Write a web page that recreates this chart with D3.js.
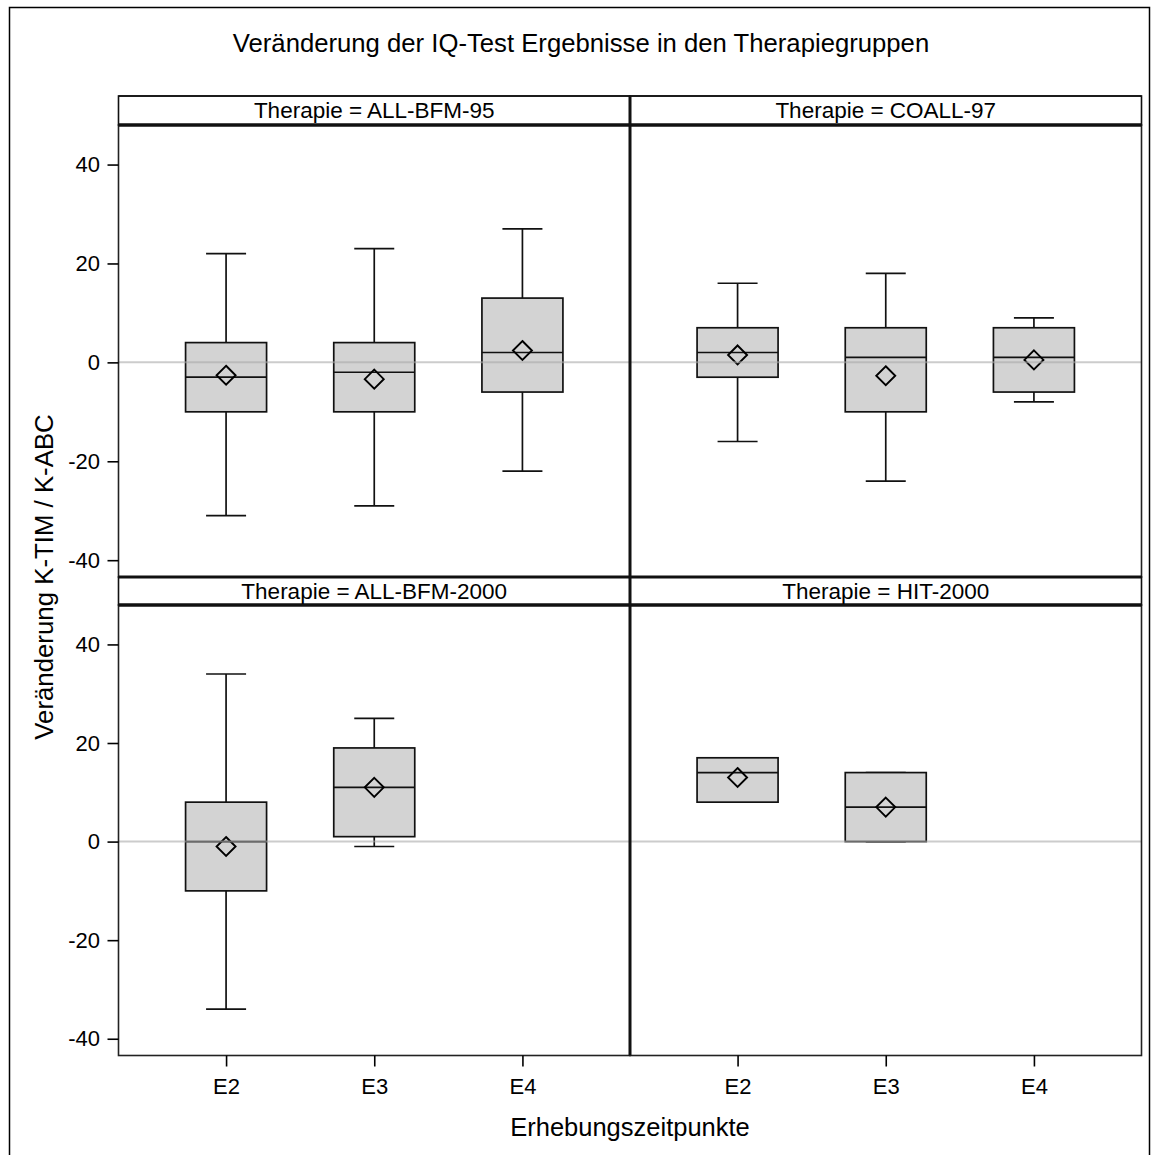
<!DOCTYPE html>
<html>
<head>
<meta charset="utf-8">
<script src="https://cdn.jsdelivr.net/npm/d3@7"></script>
<style>
  html, body { margin: 0; padding: 0; background: #fff; }
  svg { display: block; font-family: "Liberation Sans", Arial, sans-serif; }
</style>
</head>
<body>
<svg id="chart" width="1160" height="1155"></svg>
<script>
// Therapy groups (panels, row-major) and measurement times
const therapies = ["ALL-BFM-95", "COALL-97", "ALL-BFM-2000", "HIT-2000"];
const timepoints = ["E2", "E3", "E4"];
const yTicks = [-40, -20, 0, 20, 40];

// Box statistics per therapy, one entry per timepoint (null = no data)
const whiskerLow  = [[-31, -29, -22], [-16, -24, -8], [-34, -1, null], [8, 0, null]];
const quartile1   = [[-10, -10, -6],  [-3, -10, -6],  [-10, 1, null],  [8, 0, null]];
const medians     = [[-3, -2, 2],     [2, 1, 1],      [0, 11, null],   [14, 7, null]];
const quartile3   = [[4, 4, 13],      [7, 7, 7],      [8, 19, null],   [17, 14, null]];
const whiskerHigh = [[22, 23, 27],    [16, 18, 9],    [34, 25, null],  [17, 14, null]];
const means       = [[-2.6, -3.4, 2.4], [1.5, -2.7, 0.5], [-1, 11, null], [13, 7, null]];

const svg = d3.select("#chart");
const FONT = "Liberation Sans, Arial, sans-serif";

// Layout
const colX = [[118.5, 630], [630, 1141.5]];
const rows = [
  { headTop: 96, plotTop: 125, plotBottom: 577, headStroke: 1.5 },
  { headTop: 577, plotTop: 605, plotBottom: 1055.5, headStroke: 3 }
];
const yDomain = [-43.4, 48];
const boxW = 81, capW = 40;

// Outer frame
svg.append("rect")
  .attr("x", 9.5).attr("y", 7.5).attr("width", 1140).attr("height", 1170)
  .attr("fill", "none").attr("stroke", "#000").attr("stroke-width", 1.5);

// Title
svg.append("text")
  .attr("x", 581).attr("y", 52)
  .attr("text-anchor", "middle")
  .attr("font-size", 25.7)
  .attr("fill", "#000")
  .text("Veränderung der IQ-Test Ergebnisse in den Therapiegruppen");

therapies.forEach((ther, ti) => {
  const r = Math.floor(ti / 2), c = ti % 2;
  const row = rows[r];
  const [x0, x1] = colX[c];

  const x = d3.scalePoint().domain(timepoints).range([x0, x1]).padding(0.726);
  const y = d3.scaleLinear().domain(yDomain).range([row.plotBottom, row.plotTop]);

  const g = svg.append("g");

  // Boxes
  timepoints.forEach((tp, k) => {
    if (medians[ti][k] == null) return;
    const cx = x(tp);
    const lo = whiskerLow[ti][k], q1 = quartile1[ti][k], md = medians[ti][k];
    const q3 = quartile3[ti][k], hi = whiskerHigh[ti][k], mn = means[ti][k];
    const line = (xa, ya, xb, yb) => g.append("line")
      .attr("x1", xa).attr("y1", ya).attr("x2", xb).attr("y2", yb)
      .attr("stroke", "#111").attr("stroke-width", 1.7);

    // whiskers + caps
    line(cx, y(q3), cx, y(hi));
    line(cx, y(q1), cx, y(lo));
    line(cx - capW / 2, y(hi), cx + capW / 2, y(hi));
    line(cx - capW / 2, y(lo), cx + capW / 2, y(lo));
    // box
    g.append("rect")
      .attr("x", cx - boxW / 2).attr("y", y(q3))
      .attr("width", boxW).attr("height", y(q1) - y(q3))
      .attr("fill", "#d3d3d3").attr("stroke", "#111").attr("stroke-width", 1.7);
    // median
    line(cx - boxW / 2, y(md), cx + boxW / 2, y(md));
    // mean diamond
    const d = 9.5, my = y(mn);
    g.append("path")
      .attr("d", `M${cx},${my - d}L${cx + d},${my}L${cx},${my + d}L${cx - d},${my}Z`)
      .attr("fill", "none").attr("stroke", "#000").attr("stroke-width", 1.9);
  });

  // Zero reference line
  g.append("line")
    .attr("x1", x0).attr("x2", x1)
    .attr("y1", y(0)).attr("y2", y(0))
    .attr("stroke", "#aaa").attr("stroke-opacity", 0.6).attr("stroke-width", 2);

  // Panel frame
  g.append("rect")
    .attr("x", x0).attr("y", row.plotTop)
    .attr("width", x1 - x0).attr("height", row.plotBottom - row.plotTop)
    .attr("fill", "none").attr("stroke", "#222").attr("stroke-width", 1.6);

  // Header strip
  g.append("rect")
    .attr("x", x0).attr("y", row.headTop)
    .attr("width", x1 - x0).attr("height", row.plotTop - row.headTop)
    .attr("fill", "#fff").attr("stroke", "#111").attr("stroke-width", 1.6);
  g.append("line")
    .attr("x1", x0).attr("x2", x1)
    .attr("y1", row.headTop).attr("y2", row.headTop)
    .attr("stroke", "#111").attr("stroke-width", row.headStroke);
  g.append("line")
    .attr("x1", x0).attr("x2", x1)
    .attr("y1", row.plotTop).attr("y2", row.plotTop)
    .attr("stroke", "#111").attr("stroke-width", 3.5);
  g.append("text")
    .attr("x", (x0 + x1) / 2).attr("y", row.headTop + 21.5)
    .attr("text-anchor", "middle").attr("font-size", 22.5)
    .attr("fill", "#000")
    .text(`Therapie = ${ther}`);

  // Y axis on left column
  if (c === 0) {
    const ay = svg.append("g")
      .attr("transform", `translate(${x0},0)`)
      .call(d3.axisLeft(y).tickValues(yTicks).tickSize(11).tickPadding(7.5).tickFormat(d => String(d)));
    ay.select(".domain").remove();
    ay.selectAll(".tick line").attr("stroke", "#000").attr("stroke-width", 1.6);
    ay.selectAll(".tick text").attr("font-size", 22).attr("fill", "#000")
      .attr("font-family", FONT);
  }
  // X axis on bottom row
  if (r === 1) {
    const ax = svg.append("g")
      .attr("transform", `translate(0,${row.plotBottom})`)
      .call(d3.axisBottom(x).tickSize(11).tickPadding(11.5));
    ax.select(".domain").remove();
    ax.selectAll(".tick line").attr("stroke", "#000").attr("stroke-width", 1.6);
    ax.selectAll(".tick text").attr("font-size", 22).attr("fill", "#000")
      .attr("font-family", FONT);
  }
});

// Thicker divider between the two columns
svg.append("line")
  .attr("x1", 630).attr("x2", 630).attr("y1", 96).attr("y2", 1055.5)
  .attr("stroke", "#111").attr("stroke-width", 3);

// Axis titles
svg.append("text")
  .attr("transform", "translate(53,577) rotate(-90)")
  .attr("text-anchor", "middle").attr("font-size", 25.8)
  .attr("fill", "#000")
  .text("Veränderung K-TIM / K-ABC");
svg.append("text")
  .attr("x", 630).attr("y", 1136)
  .attr("text-anchor", "middle").attr("font-size", 25.5)
  .attr("fill", "#000")
  .text("Erhebungszeitpunkte");
</script>
</body>
</html>
